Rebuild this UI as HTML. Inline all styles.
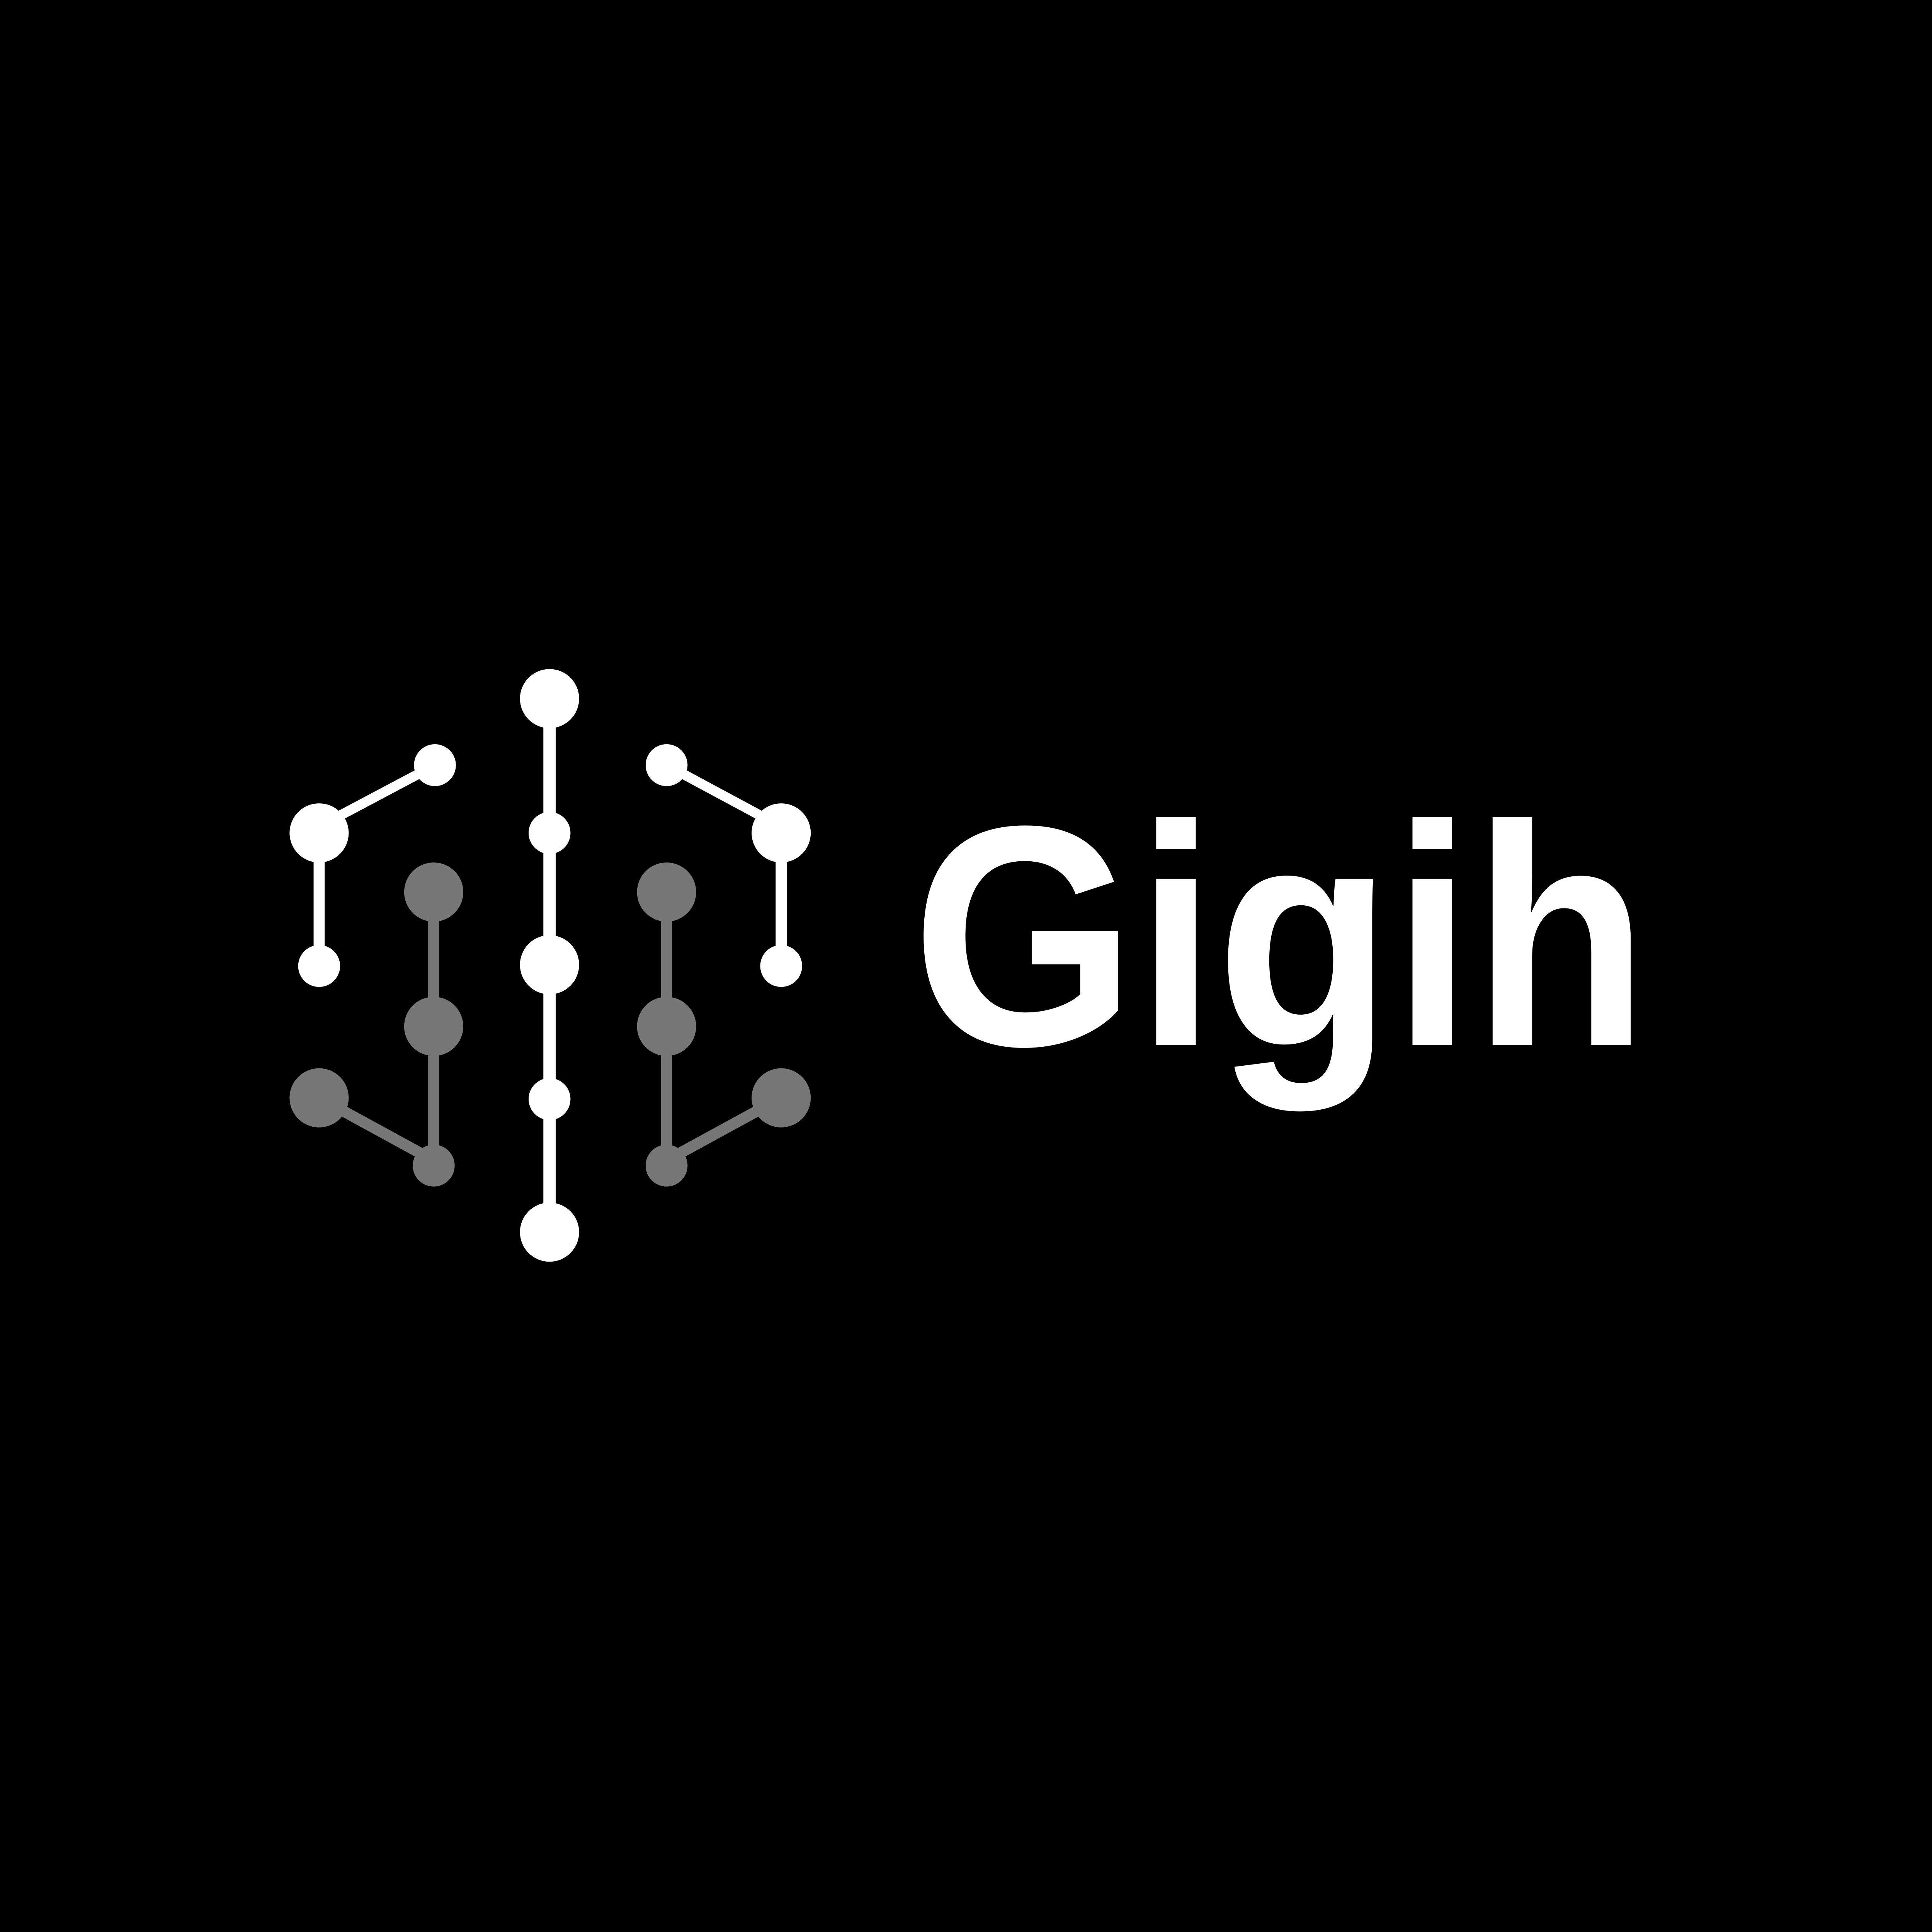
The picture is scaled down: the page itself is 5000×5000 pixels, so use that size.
<!DOCTYPE html>
<html><head><meta charset="utf-8"><style>
html,body{margin:0;padding:0;background:#000;}
svg{display:block;}
</style></head><body>
<svg width="5000" height="5000" viewBox="0 0 1568 1568" xmlns="http://www.w3.org/2000/svg">
<rect width="1568" height="1568" fill="#000"/>
<g fill="#fff" stroke="#fff">
  <line x1="446" y1="567" x2="446" y2="1000" stroke-width="10"/>
  <circle cx="446" cy="567" r="24" stroke="none"/>
  <circle cx="446" cy="676" r="17" stroke="none"/>
  <circle cx="446" cy="783" r="24" stroke="none"/>
  <circle cx="446" cy="892" r="17" stroke="none"/>
  <circle cx="446" cy="1000" r="24" stroke="none"/>
</g>
<g fill="#fff" stroke="#fff">
  <line x1="259" y1="676" x2="259" y2="784" stroke-width="9"/>
  <line x1="272" y1="664" x2="353" y2="621" stroke-width="8"/>
  <circle cx="259" cy="676" r="24" stroke="none"/>
  <circle cx="259" cy="784" r="17" stroke="none"/>
  <circle cx="353" cy="621" r="17" stroke="none"/>
</g>
<g fill="#fff" stroke="#fff">
  <line x1="634" y1="676" x2="634" y2="784" stroke-width="9"/>
  <line x1="621" y1="664" x2="541" y2="621" stroke-width="8"/>
  <circle cx="634" cy="676" r="24" stroke="none"/>
  <circle cx="634" cy="784" r="17" stroke="none"/>
  <circle cx="541" cy="621" r="17" stroke="none"/>
</g>
<g fill="#777" stroke="#777">
  <line x1="352" y1="724" x2="352" y2="935" stroke-width="9"/>
  <line x1="259" y1="891" x2="345" y2="938" stroke-width="9"/>
  <circle cx="352" cy="724" r="24" stroke="none"/>
  <circle cx="352" cy="833" r="24" stroke="none"/>
  <circle cx="259" cy="891" r="24" stroke="none"/>
  <circle cx="352" cy="946" r="17" stroke="none"/>
</g>
<g fill="#777" stroke="#777">
  <line x1="541" y1="724" x2="541" y2="935" stroke-width="9"/>
  <line x1="634" y1="891" x2="548" y2="938" stroke-width="9"/>
  <circle cx="541" cy="724" r="24" stroke="none"/>
  <circle cx="541" cy="833" r="24" stroke="none"/>
  <circle cx="634" cy="891" r="24" stroke="none"/>
  <circle cx="541" cy="946" r="17" stroke="none"/>
</g>
<text x="740" y="848" fill="#fff" font-family="'Liberation Sans', sans-serif" font-weight="bold" font-size="255" textLength="598" lengthAdjust="spacingAndGlyphs">Gigih</text>
</svg>
</body></html>
